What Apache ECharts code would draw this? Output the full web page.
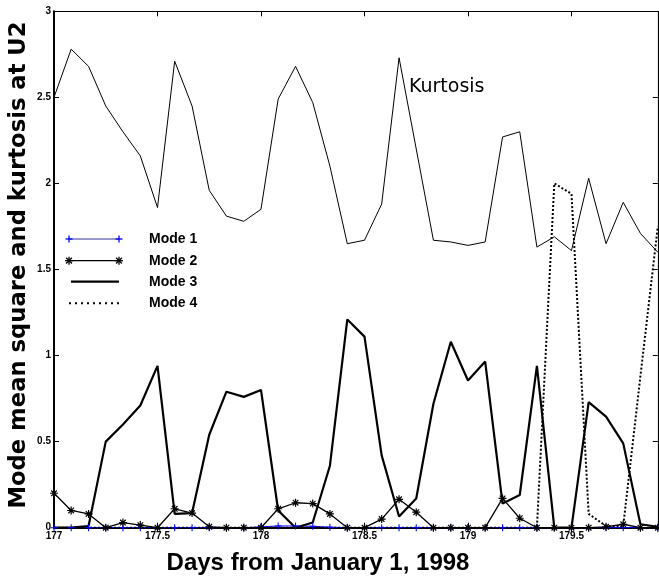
<!DOCTYPE html>
<html>
<head>
<meta charset="utf-8">
<script src="https://cdn.jsdelivr.net/npm/echarts@6/dist/echarts.min.js"></script>
<style>
  html, body { margin: 0; padding: 0; background: #fff; }
  #chart { width: 659px; height: 581px; }
</style>
</head>
<body>
<div id="chart"></div>
<script>
// sample times, every 2 hours
const days = [
  177.000, 177.083, 177.167, 177.250, 177.333, 177.417, 177.500, 177.583, 177.667, 177.750, 177.833, 177.917,
  178.000, 178.083, 178.167, 178.250, 178.333, 178.417, 178.500, 178.583, 178.667, 178.750, 178.833, 178.917,
  179.000, 179.083, 179.167, 179.250, 179.333, 179.417, 179.500, 179.583, 179.667, 179.750, 179.833, 179.917
]

const kurtosis = [
  2.50, 2.78, 2.68, 2.45, 2.30, 2.16, 1.86, 2.71, 2.45, 1.96, 1.81, 1.78,
  1.85, 2.49, 2.68, 2.47, 2.10, 1.65, 1.67, 1.88, 2.73, 2.20, 1.67, 1.66,
  1.64, 1.66, 2.27, 2.30, 1.63, 1.69, 1.61, 2.03, 1.65, 1.89, 1.71, 1.60
]

const mode1 = [
  0, 0, 0, 0, 0, 0, 0, 0, 0, 0, 0, 0,
  0.005, 0.01, 0.01, 0.008, 0.003, 0, 0, 0, 0, 0, 0, 0,
  0, 0, 0, 0, 0, 0, 0, 0, 0, 0, 0, 0
]

const mode2 = [
  0.20, 0.10, 0.08, 0, 0.03, 0.015, 0, 0.11, 0.085, 0.005, 0, 0,
  0, 0.11, 0.145, 0.14, 0.08, 0, 0, 0.05, 0.165, 0.09, 0, 0,
  0, 0, 0.17, 0.055, 0, 0, 0, 0, 0.005, 0.02, 0, 0
]

const mode3 = [
  0, 0, 0.01, 0.50, 0.60, 0.71, 0.94, 0.08, 0.085, 0.54, 0.79, 0.76,
  0.80, 0.10, 0, 0.03, 0.36, 1.21, 1.11, 0.42, 0.065, 0.17, 0.72, 1.08,
  0.855, 0.965, 0.14, 0.19, 0.94, 0, 0, 0.73, 0.645, 0.49, 0.02, 0.005
]

const mode4 = [
  0, 0, 0, 0, 0, 0, 0, 0, 0, 0, 0, 0,
  0, 0, 0, 0, 0, 0, 0, 0, 0, 0, 0, 0,
  0, 0, 0, 0, 0, 2.00, 1.94, 0.08, 0.01, 0.01, 0.88, 1.75
]

const xMin = 177
const xMax = 179.917
const yTicks = [0, 0.5, 1, 1.5, 2, 2.5, 3]

const plusPath = 'path://M8.5 0L11.5 0L11.5 8.5L20 8.5L20 11.5L11.5 11.5L11.5 20L8.5 20L8.5 11.5L0 11.5L0 8.5L8.5 8.5Z'
const starPath = 'path://M8.5 0L11.5 0L11.5 20L8.5 20Z M0 8.5L20 8.5L20 11.5L0 11.5Z ' +
  'M4.06 1.94L18.06 15.94L15.94 18.06L1.94 4.06Z M15.94 1.94L18.06 4.06L4.06 18.06L1.94 15.94Z'

const labelFont = 'Liberation Sans, Arial, sans-serif'
const blue = '#0000ff'

function pairs(ys) {
  return days.map((d, i) => [d, ys[i]])
}

// little stroked marker for the legend: '+' or '*'
function legendMarker(x, y, kind, color) {
  const r = kind === 'star' ? 4 : 3.5
  const d = r * 0.72
  const segs = [[0, -r, 0, r], [-r, 0, r, 0]]
  if (kind === 'star') {
    segs.push([-d, -d, d, d], [-d, d, d, -d])
  }
  return segs.map(s => ({
    type: 'line',
    shape: {x1: x + s[0], y1: y + s[1], x2: x + s[2], y2: y + s[3]},
    style: {stroke: color, lineWidth: 1.3}
  }))
}

function legendRow(y, name, line, marker) {
  let items = [{
    type: 'line',
    shape: {x1: line.x1 || 69, y1: y, x2: 119, y2: y},
    style: {stroke: line.color, lineWidth: line.width, lineDash: line.dash || null}
  }]
  if (marker) {
    items = items.concat(legendMarker(69, y, marker.kind, marker.color))
    items = items.concat(legendMarker(119, y, marker.kind, marker.color))
  }
  items.push({
    type: 'text', x: 149, y: y,
    style: {text: name, font: 'bold 14px ' + labelFont, fill: '#000', textVerticalAlign: 'middle'}
  })
  return items
}

const chart = echarts.init(document.getElementById('chart'), null, {renderer: 'canvas'})

const axisLabel = {fontFamily: labelFont, fontWeight: 'bold', fontSize: 10, color: '#000'}

function frameAxis(extra, margin, hideMax) {
  return Object.assign({
    axisLine: {show: true, onZero: false, lineStyle: {color: '#000', width: margin ? 2 : 1.2}},
    axisTick: {show: true, inside: true, length: 5, lineStyle: {color: '#000', width: 1}},
    axisLabel: margin ? Object.assign({margin: margin, showMaxLabel: !hideMax}, axisLabel) : {show: false},
    splitLine: {show: false}
  }, extra)
}

const option = {
  animation: false,
  grid: {left: 54, top: 11.3, width: 603.8, height: 516.4, outerBoundsMode: 'none', containLabel: false},
  xAxis: [
    frameAxis({type: 'value', position: 'bottom', min: xMin, max: xMax, interval: 0.5}, 4, true),
    frameAxis({type: 'value', position: 'top', min: xMin, max: xMax, interval: 0.5}, 0)
  ],
  yAxis: [
    frameAxis({type: 'value', position: 'left', min: yTicks[0], max: yTicks[yTicks.length - 1], interval: 0.5}, 3),
    frameAxis({type: 'value', position: 'right', min: yTicks[0], max: yTicks[yTicks.length - 1], interval: 0.5}, 0)
  ],
  series: [
    {
      name: 'Kurtosis', type: 'line', data: pairs(kurtosis), symbol: 'none',
      lineStyle: {color: '#000', width: 1}
    },
    {
      name: 'Mode 1', type: 'line', data: pairs(mode1), symbol: plusPath, symbolSize: 7,
      showAllSymbol: true,
      itemStyle: {color: blue}, lineStyle: {color: blue, width: 1}
    },
    {
      name: 'Mode 2', type: 'line', data: pairs(mode2), symbol: starPath, symbolSize: 8,
      showAllSymbol: true,
      itemStyle: {color: '#000'}, lineStyle: {color: '#000', width: 1.3}
    },
    {
      name: 'Mode 3', type: 'line', data: pairs(mode3), symbol: 'none',
      lineStyle: {color: '#000', width: 2.2}
    },
    {
      name: 'Mode 4', type: 'line', data: pairs(mode4), symbol: 'none',
      lineStyle: {color: '#000', width: 2, type: [2, 2]}
    }
  ],
  graphic: [
    {
      type: 'text', x: 409, y: 87,
      style: {text: 'Kurtosis', font: '19px DejaVu Sans, sans-serif', fill: '#000', textVerticalAlign: 'middle'}
    },
    {
      type: 'text', x: 318, y: 563,
      style: {text: 'Days from January 1, 1998', font: 'bold 24px ' + labelFont, fill: '#000',
        textAlign: 'center', textVerticalAlign: 'middle'}
    },
    {
      type: 'text', x: 19, y: 265, rotation: Math.PI / 2,
      style: {text: 'Mode mean square and kurtosis at U2', font: 'bold 22.7px DejaVu Sans, sans-serif', fill: '#000',
        textAlign: 'center', textVerticalAlign: 'middle'}
    }
  ].concat(
    legendRow(239, 'Mode 1', {color: '#333399', width: 1}, {kind: 'plus', color: blue}),
    legendRow(260.7, 'Mode 2', {color: '#000', width: 1.3}, {kind: 'star', color: '#000'}),
    legendRow(281.7, 'Mode 3', {color: '#000', width: 2.2, x1: 71}),
    legendRow(303.3, 'Mode 4', {color: '#000', width: 2, dash: [2, 4]})
  )
}

chart.setOption(option)
</script>
</body>
</html>
